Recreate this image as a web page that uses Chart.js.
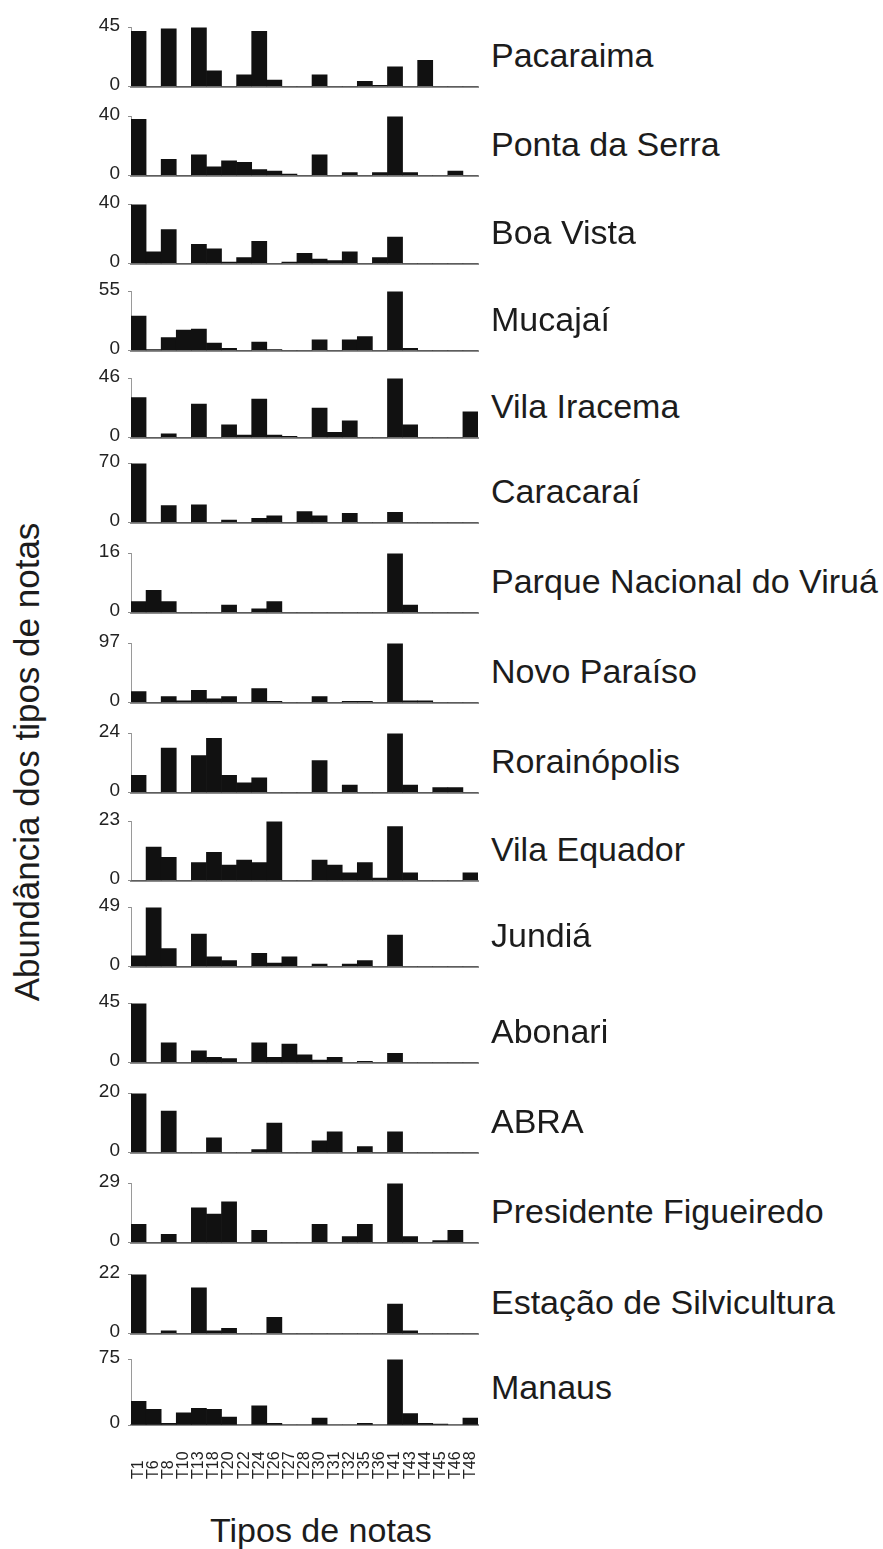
<!DOCTYPE html>
<html>
<head>
<meta charset="utf-8">
<script src="https://cdn.jsdelivr.net/npm/chart.js@4.4.1/dist/chart.umd.min.js"></script>
<style>
    body { margin: 0; background: #fff; width: 883px; height: 1549px; position: relative; overflow: hidden;
           font-family: "Liberation Sans", Arial, sans-serif; color: #1c1c1c; }
    canvas { position: absolute; left: 0; }
    .site { position: absolute; left: 491px; font-size: 34px; line-height: 34px; white-space: nowrap; }
    .ytitle { position: absolute; left: 26px; top: 762px; font-size: 35px; line-height: 35px; white-space: nowrap;
              transform: translate(-50%, -50%) rotate(-90deg); }
    .xtitle { position: absolute; left: 210px; top: 1513px; font-size: 34px; line-height: 34px; white-space: nowrap; }
</style>
</head>
<body>
<div class="ytitle">Abundância dos tipos de notas</div>
<div class="xtitle">Tipos de notas</div>
<script>
// note types on the x axis
const categories = ['T1', 'T6', 'T8', 'T10', 'T13', 'T18', 'T20', 'T22', 'T24', 'T26', 'T27', 'T28',
    'T30', 'T31', 'T32', 'T35', 'T36', 'T41', 'T43', 'T44', 'T45', 'T46', 'T48'];

const siteNames = ['Pacaraima', 'Ponta da Serra', 'Boa Vista', 'Mucajaí', 'Vila Iracema', 'Caracaraí',
    'Parque Nacional do Viruá', 'Novo Paraíso', 'Rorainópolis', 'Vila Equador', 'Jundiá', 'Abonari',
    'ABRA', 'Presidente Figueiredo', 'Estação de Silvicultura', 'Manaus'];

// top tick of each panel
const axisMax = [45, 40, 40, 55, 46, 70, 16, 97, 24, 23, 49, 45, 20, 29, 22, 75];

const pacaraima    = [42, 0, 44, 0, 45, 12, 0, 9, 42, 5, 0, 0, 9, 0, 0, 4, 1, 15, 0, 20, 0, 0, 0];
const pontaDaSerra = [38, 0, 11, 0, 14, 6, 10, 9, 4, 3, 1, 0, 14, 0, 2, 0, 2, 40, 2, 0, 0, 3, 0];
const boaVista     = [40, 8, 23, 0, 13, 10, 1, 4, 15, 0, 1, 7, 3, 2, 8, 0, 4, 18, 0, 0, 0, 0, 0];
const mucajai      = [32, 1, 12, 19, 20, 7, 2, 0, 8, 1, 0, 0, 10, 0, 10, 13, 0, 55, 2, 0, 0, 0, 0];
const vilaIracema  = [31, 0, 3, 0, 26, 0, 10, 2, 30, 2, 1, 0, 23, 4, 13, 0, 0, 46, 10, 0, 0, 0, 20];
const caracarai    = [70, 0, 20, 0, 21, 0, 3, 0, 5, 8, 0, 13, 8, 0, 11, 0, 0, 12, 0, 0, 0, 0, 0];
const virua        = [3, 6, 3, 0, 0, 0, 2, 0, 1, 3, 0, 0, 0, 0, 0, 0, 0, 16, 2, 0, 0, 0, 0];
const novoParaiso  = [18, 0, 10, 3, 20, 6, 10, 0, 23, 2, 0, 0, 10, 0, 2, 2, 0, 97, 3, 3, 0, 0, 0];
const rorainopolis = [7, 0, 18, 0, 15, 22, 7, 4, 6, 0, 0, 0, 13, 0, 3, 0, 0, 24, 3, 0, 2, 2, 0];
const vilaEquador  = [0, 13, 9, 0, 7, 11, 6, 8, 7, 23, 0, 0, 8, 6, 3, 7, 1, 21, 3, 0, 0, 0, 3];
const jundia       = [9, 49, 15, 0, 27, 8, 5, 0, 11, 3, 8, 0, 2, 0, 2, 5, 0, 26, 0, 0, 0, 0, 0];
const abonari      = [45, 0, 15, 0, 9, 4, 3, 0, 15, 4, 14, 6, 2, 4, 0, 1, 0, 7, 0, 0, 0, 0, 0];
const abra         = [20, 0, 14, 0, 0, 5, 0, 0, 1, 10, 0, 0, 4, 7, 0, 2, 0, 7, 0, 0, 0, 0, 0];
const presFigueiredo = [9, 0, 4, 0, 17, 14, 20, 0, 6, 0, 0, 0, 9, 0, 3, 9, 0, 29, 3, 0, 1, 6, 0];
const silvicultura = [22, 0, 1, 0, 17, 1, 2, 0, 0, 6, 0, 0, 0, 0, 0, 0, 0, 11, 1, 0, 0, 0, 0];
const manaus       = [27, 18, 2, 14, 19, 18, 9, 0, 22, 2, 0, 0, 8, 0, 0, 2, 0, 75, 13, 2, 1, 0, 8];

const siteValues = [pacaraima, pontaDaSerra, boaVista, mucajai, vilaIracema, caracarai, virua, novoParaiso,
    rorainopolis, vilaEquador, jundia, abonari, abra, presFigueiredo, silvicultura, manaus];

// layout: y pixel of every panel's zero line
const baseY = [93, 181.7, 270, 356.7, 444, 529, 619, 709.3, 799, 887.3, 973.3, 1069, 1159, 1249, 1340, 1425];
const PLOT_H = 72, PAD = 13, AXIS_X = 131, PLOT_RIGHT = 478, LABEL_ROOM = 70;
const FONT = '"Liberation Sans", Arial, sans-serif';

// rotated note labels under the last panel, anchored at their start like the original
const noteLabels = {
    id: 'noteLabels',
    afterDraw(chart, args, opts) {
        if (!opts.show) return;
        const ctx = chart.ctx;
        const xs = chart.scales.x;
        ctx.save();
        ctx.font = `16px ${FONT}`;
        ctx.fillStyle = '#222';
        ctx.textAlign = 'left';
        ctx.textBaseline = 'middle';
        categories.forEach((c, i) => {
            ctx.save();
            ctx.translate(xs.getPixelForValue(i), chart.chartArea.bottom + opts.offset);
            ctx.rotate(-Math.PI / 2);
            ctx.fillText(c, 0, 0);
            ctx.restore();
        });
        ctx.restore();
    }
};

siteValues.forEach((values, i) => {
    const last = i === siteValues.length - 1;
    const max = axisMax[i];

    const canvas = document.createElement('canvas');
    canvas.width = PLOT_RIGHT + 2;
    canvas.height = PAD + PLOT_H + PAD + (last ? LABEL_ROOM : 0);
    canvas.style.top = (baseY[i] - PLOT_H - PAD) + 'px';
    document.body.appendChild(canvas);

    const label = document.createElement('div');
    label.className = 'site';
    label.textContent = siteNames[i];
    label.style.top = (baseY[i] - 55) + 'px';
    document.body.appendChild(label);

    new Chart(canvas, {
        type: 'bar',
        data: {
            labels: categories,
            datasets: [{
                data: values,
                backgroundColor: '#111',
                borderWidth: 0,
                barPercentage: 1,
                categoryPercentage: 1
            }]
        },
        options: {
            responsive: false,
            animation: false,
            devicePixelRatio: 1,
            layout: { padding: { top: PAD, bottom: PAD + (last ? LABEL_ROOM : 0), left: 0, right: 2 } },
            plugins: {
                legend: { display: false },
                tooltip: { enabled: false },
                noteLabels: { show: last, offset: 54 }
            },
            scales: {
                x: {
                    grid: { display: false },
                    border: { color: '#8c8c8c', width: 2 },
                    ticks: { display: false },
                    afterFit: s => { s.height = 0; }
                },
                y: {
                    min: 0,
                    max: max,
                    afterBuildTicks: ax => { ax.ticks = [{ value: 0 }, { value: max }]; },
                    grid: { drawOnChartArea: false, drawTicks: true, tickLength: 3, color: '#8c8c8c' },
                    border: { color: '#9a9a9a', width: 1 },
                    ticks: { font: { size: 19, family: FONT }, color: '#222', padding: 8, labelOffset: -2 },
                    afterFit: s => { s.width = AXIS_X; }
                }
            }
        },
        plugins: [noteLabels]
    });
});
</script>
</body>
</html>
